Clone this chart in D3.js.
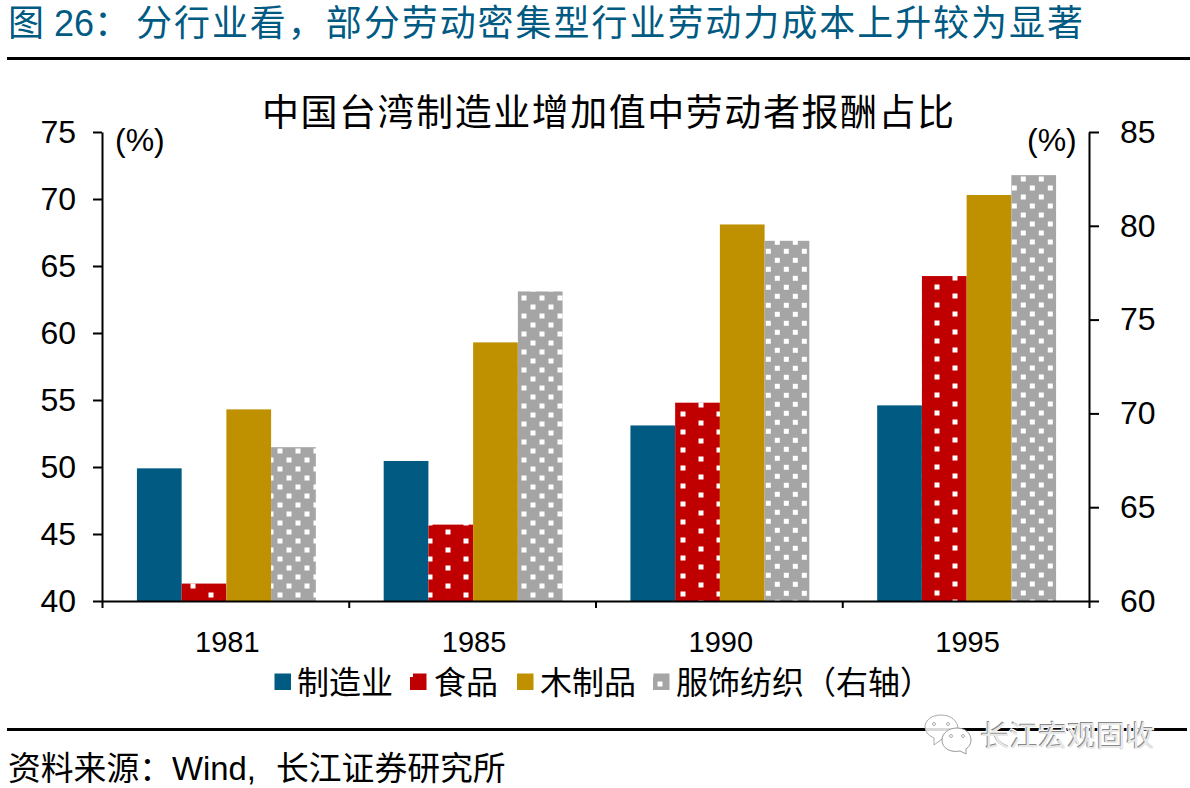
<!DOCTYPE html>
<html>
<head>
<meta charset="utf-8">
<script src="https://cdn.jsdelivr.net/npm/d3@7"></script>
<style>
html, body { margin: 0; padding: 0; background: #fff; }
svg { display: block; }
text { font-family: "Liberation Sans", "Noto Sans CJK SC", sans-serif; fill: #000; }
</style>
</head>
<body>
<svg id="chart" width="1190" height="788"></svg>
<script>
var years = ["1981", "1985", "1990", "1995"];
var seriesNames = ["制造业", "食品", "木制品", "服饰纺织（右轴）"];
var manufacturing = [49.9, 50.45, 53.1, 54.6];
var food = [41.3, 45.7, 54.8, 64.25];
var wood = [54.3, 59.3, 68.1, 70.3];
var textile = [68.2, 76.5, 79.2, 82.7];
var leftTicks = [40, 45, 50, 55, 60, 65, 70, 75];
var rightTicks = [60, 65, 70, 75, 80, 85];

var seriesValues = [manufacturing, food, wood, textile];
var seriesColor = ["#005a82", "#c00000", "#bf9000", "#a5a5a5"];

var svg = d3.select("#chart");
var left = 102, right = 1089, top_ = 132, bottom = 601;

var x = d3.scaleBand().domain(years).range([left + 1, right + 1]).paddingInner(0.275).paddingOuter(0.1375);
var xTickScale = d3.scalePoint().domain(d3.range(years.length + 1)).range([left, right]);
var xInner = d3.scaleBand().domain(d3.range(4)).range([0, x.bandwidth()]);
var yLeft = d3.scaleLinear().domain([40, 75]).range([bottom, top_]);
var yRight = d3.scaleLinear().domain([60, 85]).range([bottom, top_]);

// white square dots, staggered. every bar starts its own tile in the original
var defs = svg.append("defs");
function dots(id, color, tileW, cx, cy) {
    var p = defs.append("pattern")
        .attr("id", id)
        .attr("patternUnits", "userSpaceOnUse")
        .attr("width", tileW).attr("height", 18)
        .attr("x", cx - 2.5).attr("y", cy - 2.5);
    p.append("rect").attr("width", tileW).attr("height", 18).attr("fill", color);
    p.append("rect").attr("width", 5).attr("height", 5).attr("fill", "#fff");
    p.append("rect").attr("x", tileW / 2).attr("y", 9).attr("width", 5).attr("height", 5).attr("fill", "#fff");
}
var redAnchor = [[193, 586], [448, 532], [701, 405], [937, 287]];
var grayAnchor = [[280, 451], [524, 514], [777.3, 242.3], [1023.3, 179]];
redAnchor.forEach(function (a, i) { dots("dotsRed" + i, seriesColor[1], 36, a[0], a[1]); });
grayAnchor.forEach(function (a, i) { dots("dotsGray" + i, seriesColor[3], 18, a[0], a[1]); });

function barFill(s, i) {
    if (s === 1) return "url(#dotsRed" + i + ")";
    if (s === 3) return "url(#dotsGray" + i + ")";
    return seriesColor[s];
}

// header
svg.append("text")
    .attr("x", 8).attr("y", 36)
    .style("font-size", "36px")
    .style("fill", "#005a82")
    .text("图");
svg.append("text")
    .attr("x", 54).attr("y", 36)
    .style("font-size", "36px")
    .style("fill", "#005a82")
    .text("26：");
svg.append("text")
    .attr("x", 136).attr("y", 36)
    .style("font-size", "36px")
    .style("fill", "#005a82")
    .attr("textLength", 947)
    .text("分行业看，部分劳动密集型行业劳动力成本上升较为显著");

svg.append("rect").attr("x", 7).attr("y", 57).attr("width", 1183).attr("height", 3).attr("fill", "#000");

// chart title
svg.append("text")
    .attr("x", 262).attr("y", 126)
    .style("font-size", "37px")
    .attr("textLength", 692)
    .text("中国台湾制造业增加值中劳动者报酬占比");

// bars
seriesValues.forEach(function (vals, s) {
    var y = s === 3 ? yRight : yLeft;
    svg.append("g").selectAll("rect")
        .data(vals)
        .enter()
        .append("rect")
        .attr("x", function (d, i) { return x(years[i]) + xInner(s); })
        .attr("y", function (d) { return y(d); })
        .attr("width", xInner.bandwidth())
        .attr("height", function (d) { return bottom - y(d); })
        .attr("fill", function (d, i) { return barFill(s, i); });
});

// axes
var axisL = svg.append("g").attr("transform", "translate(" + left + ",0)")
    .call(d3.axisLeft(yLeft).tickValues(leftTicks).tickSize(9).tickPadding(17).tickSizeOuter(0));
var axisR = svg.append("g").attr("transform", "translate(" + right + ",0)")
    .call(d3.axisRight(yRight).tickValues(rightTicks).tickSize(10).tickPadding(21).tickSizeOuter(0));
var axisB = svg.append("g").attr("transform", "translate(0," + bottom + ")")
    .call(d3.axisBottom(xTickScale).tickSize(7).tickSizeOuter(0).tickFormat(""));

[axisL, axisR, axisB].forEach(function (a) {
    a.selectAll("path, line").attr("stroke", "#000").attr("stroke-width", 2);
    a.selectAll("text").attr("fill", "#000").style("font-size", "32px")
        .style("font-family", '"Liberation Sans", sans-serif');
});

svg.append("g").selectAll("text")
    .data(years)
    .enter()
    .append("text")
    .attr("x", function (d) { return x(d) + x.bandwidth() / 2 + 1; })
    .attr("y", 652)
    .attr("text-anchor", "middle")
    .style("font-size", "29px")
    .text(function (d) { return d; });

// (%) unit labels
svg.append("text").attr("x", 115).attr("y", 151).style("font-size", "32px").text("(%)");
svg.append("text").attr("x", 1027).attr("y", 151).style("font-size", "32px").text("(%)");

// legend
var legendBoxX = [274.5, 410, 517, 653];
var legendTextX = [297, 434, 540, 676];
var legendDots = [[408, 672], [648.5, 672], [657.5, 681.5]];
seriesNames.forEach(function (name, i) {
    svg.append("rect")
        .attr("x", legendBoxX[i]).attr("y", 673.5)
        .attr("width", 16.5).attr("height", 16.5)
        .attr("fill", seriesColor[i]);
    svg.append("text")
        .attr("x", legendTextX[i]).attr("y", 694)
        .style("font-size", "32px")
        .text(name);
});
svg.append("g").selectAll("rect")
    .data(legendDots)
    .enter()
    .append("rect")
    .attr("x", function (d) { return d[0]; })
    .attr("y", function (d) { return d[1]; })
    .attr("width", 5).attr("height", 5)
    .attr("fill", "#fff");

// bottom rule and source
svg.append("rect").attr("x", 7).attr("y", 728).attr("width", 1180).attr("height", 3).attr("fill", "#000");
var sourceParts = [[8, "资料来源："], [172, "Wind,"], [276, "长江证券研究所"]];
svg.append("g").selectAll("text")
    .data(sourceParts)
    .enter()
    .append("text")
    .attr("x", function (d) { return d[0]; })
    .attr("y", 780)
    .style("font-size", "32.8px")
    .text(function (d) { return d[1]; });

// watermark
var mark = svg.append("g");
mark.append("path")
    .attr("d", "M934 745 L934 738 Q925 734 925 727 C925 720 932 715 941 715 C951 715 958 721 958 729 L945 733 L942 739 Z")
    .attr("fill", "#fff").attr("fill-opacity", 0.85).attr("stroke", "#aaa").attr("stroke-width", 1);
mark.append("path")
    .attr("d", "M957 728 C965 728 971 733 971 740 C971 744 969 747 966 749 L966 754 L960 751 C950 753 942 748 942 740 C942 733 949 728 957 728 Z")
    .attr("fill", "#fff").attr("stroke", "#999").attr("stroke-width", 1);
var bubbleEyes = [[934, 724], [948, 724], [951, 736], [963, 736]];
mark.selectAll("circle")
    .data(bubbleEyes)
    .enter()
    .append("circle")
    .attr("cx", function (d) { return d[0]; })
    .attr("cy", function (d) { return d[1]; })
    .attr("r", 1.5)
    .attr("fill", "none").attr("stroke", "#999").attr("stroke-width", 0.8);
mark.append("text")
    .attr("x", 980).attr("y", 746)
    .style("font-size", "29px")
    .style("fill", "#fff")
    .style("stroke", "#fff")
    .style("stroke-width", 2.5)
    .text("长江宏观固收");
mark.append("text")
    .attr("x", 979.5).attr("y", 745.5)
    .style("font-size", "29px")
    .style("fill", "#888")
    .text("长江宏观固收");
mark.append("text")
    .attr("x", 980.5).attr("y", 746.5)
    .style("font-size", "29px")
    .style("fill", "#e8e8e8")
    .text("长江宏观固收");
</script>
</body>
</html>
